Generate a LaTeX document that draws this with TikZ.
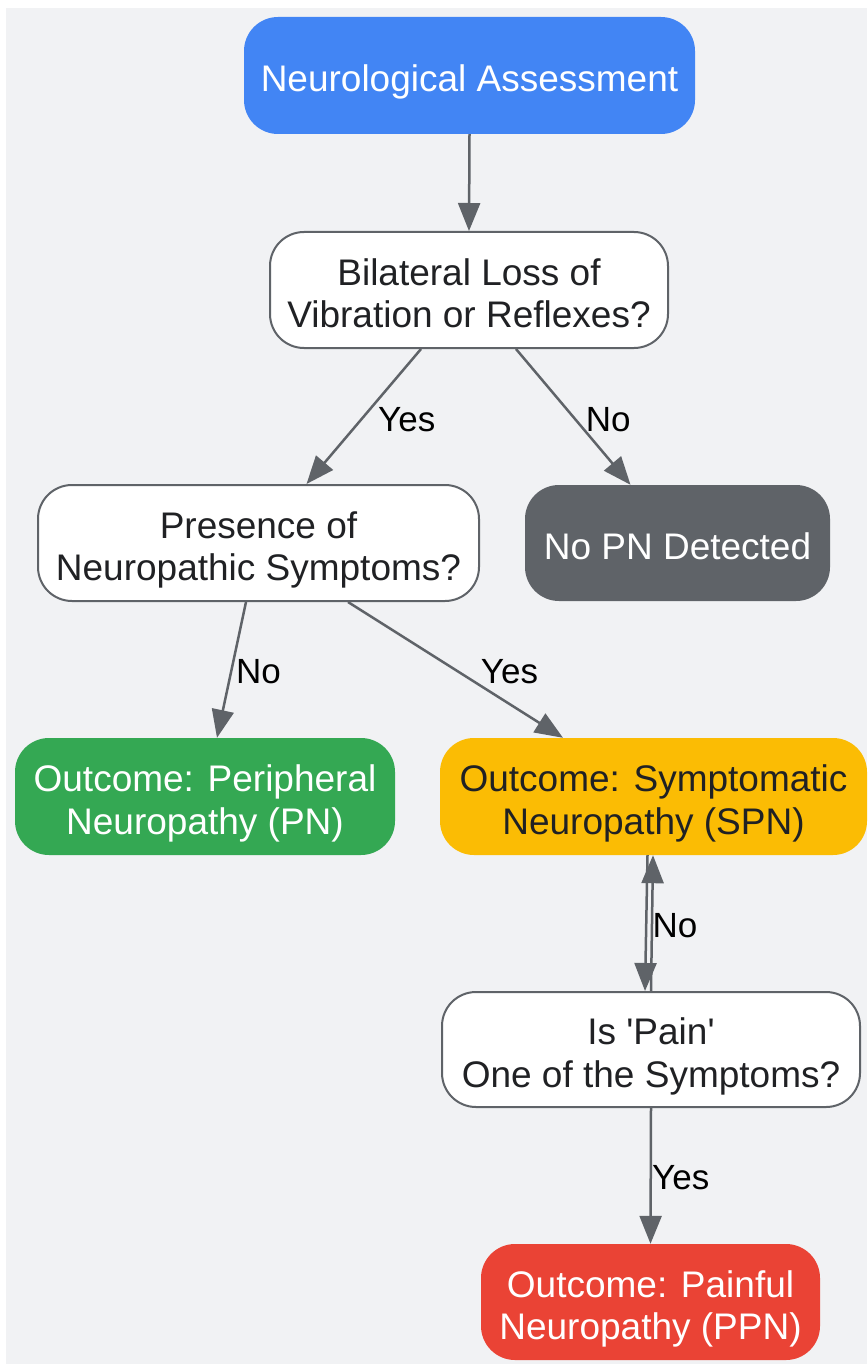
\documentclass[tikz,border=0pt]{standalone}
\usepackage{fontspec}
\setmainfont{Liberation Sans}
\usetikzlibrary{arrows.meta}
\definecolor{bg}{HTML}{F1F2F4}
\definecolor{gblue}{HTML}{4285F4}
\definecolor{ggray}{HTML}{5F6368}
\definecolor{ggreen}{HTML}{34A853}
\definecolor{gyellow}{HTML}{FBBC04}
\definecolor{gred}{HTML}{EA4335}
\definecolor{dtext}{HTML}{202124}
\newcommand{\nodetext}[1]{\raisebox{-8pt}[\height][\depth]{\begin{tabular}{@{}c@{}}#1\end{tabular}}}
\tikzset{
  box/.style={rectangle, rounded corners=34pt, inner sep=0pt, align=center,
    font=\fontsize{37}{42.5}\selectfont},
  whitebox/.style={box, fill=white, draw=ggray, line width=2pt, text=dtext},
  colbox/.style={box, draw=none, text=white},
  conn/.style={draw=ggray, line width=2.5pt, -{Triangle[length=28pt, width=22pt]}},
  elabel/.style={font=\fontsize{35}{40}\selectfont, text=black, inner sep=0pt},
}
\begin{document}
\begin{tikzpicture}[x=1pt, y=-1pt]
\useasboundingbox (0,0) rectangle (867,1364);
\fill[bg] (6,8) rectangle (867,1364);

\node[colbox, fill=gblue, minimum width=451pt, minimum height=117pt] (A) at (469.5,75.5) {\nodetext{Neurological Assessment}};
\node[whitebox, minimum width=398pt, minimum height=116pt] (B) at (469,290) {\nodetext{Bilateral Loss of\\Vibration or Reflexes?}};
\node[whitebox, minimum width=441pt, minimum height=116pt] (C) at (258.5,543) {\nodetext{Presence of\\Neuropathic Symptoms?}};
\node[colbox, fill=ggray, minimum width=305pt, minimum height=116pt] (D) at (677.5,543) {\nodetext{No PN Detected}};
\node[colbox, fill=ggreen, minimum width=380pt, minimum height=117pt] (PN) at (205,796.5) {\nodetext{Outcome: Peripheral\\Neuropathy (PN)}};
\node[colbox, fill=gyellow, text=dtext, minimum width=427pt, minimum height=117pt] (SPN) at (653.5,796.5) {\nodetext{Outcome: Symptomatic\\Neuropathy (SPN)}};
\node[whitebox, minimum width=418pt, minimum height=115pt] (P) at (651,1049.5) {\nodetext{Is \textquotesingle Pain\textquotesingle\\One of the Symptoms?}};
\node[colbox, fill=gred, minimum width=339pt, minimum height=116pt] (PPN) at (650.5,1302) {\nodetext{Outcome: Painful\\Neuropathy (PPN)}};

\draw[conn] (A.south) -- (B.north);
\draw[conn] ([xshift=-48pt]B.south) -- node[elabel, xshift=43pt, yshift=-3pt]{Yes} ([xshift=48pt]C.north);
\draw[conn] ([xshift=47pt]B.south) -- node[elabel, xshift=35pt, yshift=-3pt]{No} ([xshift=-47pt]D.north);
\draw[conn] ([xshift=-12.5pt]C.south) -- node[elabel, xshift=27pt, yshift=-2pt]{No} ([xshift=12pt]PN.north);
\draw[conn] ([xshift=89.5pt]C.south) -- node[elabel, xshift=54pt, yshift=-2pt]{Yes} ([xshift=-90.5pt]SPN.north);
\draw[conn] ([xshift=-6pt]SPN.south) -- ([xshift=-6pt]P.north);
\draw[conn] (P.north) -- node[elabel, xshift=23pt, yshift=-3pt]{No} ([xshift=-0.5pt]SPN.south);
\draw[conn] (P.south) -- node[elabel, xshift=30pt, yshift=-2pt]{Yes} (PPN.north);
\end{tikzpicture}
\end{document}
